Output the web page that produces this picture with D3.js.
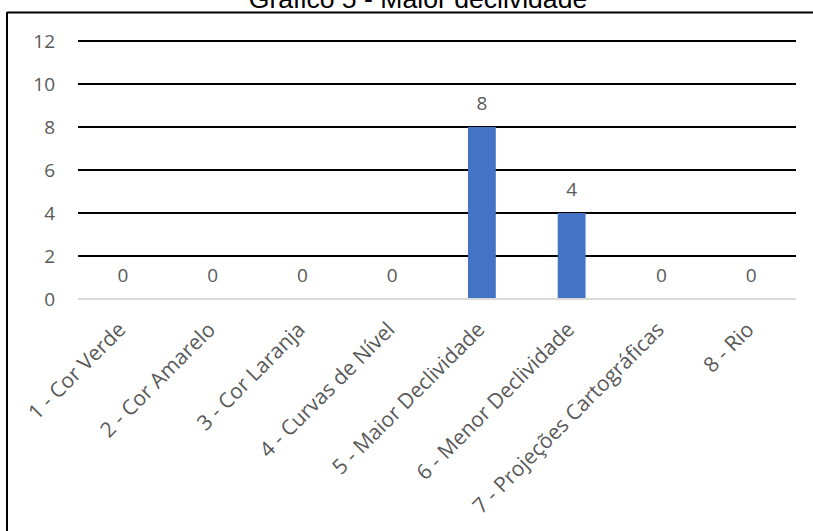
<!DOCTYPE html>
<html>
<head>
<meta charset="utf-8">
<script src="https://cdn.jsdelivr.net/npm/d3@7"></script>
<style>
  html, body { margin: 0; padding: 0; background: #fff; }
  svg { display: block; }
</style>
</head>
<body>
<svg id="chart" width="813" height="531"></svg>
<script>
// Respostas por alternativa
const categories = [
  "1 - Cor Verde",
  "2 - Cor Amarelo",
  "3 - Cor Laranja",
  "4 - Curvas de Nível",
  "5 - Maior Declividade",
  "6 - Menor Declividade",
  "7 - Projeções Cartográficas",
  "8 - Rio"
];
const values = [0, 0, 0, 0, 8, 4, 0, 0];
const yTicks = [0, 2, 4, 6, 8, 10, 12];
const title = "Gráfico 5 - Maior declividade";

const W = 813, H = 531;
const plot = { left: 78, right: 796, top: 41, bottom: 299 };
const font = "'Open Sans', 'Noto Sans', sans-serif";
const numSize = 19;
const catSize = 21;
const textColor = "#595959";

const svg = d3.select("#chart");

// Frame around the chart (top and left edges visible)
svg.append("line").attr("x1", 7).attr("x2", W + 2).attr("y1", 12.5).attr("y2", 12.5)
  .attr("stroke", "#000").attr("stroke-width", 2);
svg.append("line").attr("x1", 7).attr("x2", 7).attr("y1", 12).attr("y2", H + 2)
  .attr("stroke", "#000").attr("stroke-width", 2);

// Title
svg.append("text")
  .attr("x", 418).attr("y", 8)
  .attr("text-anchor", "middle")
  .attr("font-family", "'Liberation Sans', Arial, sans-serif")
  .attr("font-size", 26.6)
  .attr("fill", "#000")
  .text(title);

const x = d3.scaleBand().domain(categories).range([plot.left, plot.right]).paddingInner(0.69).paddingOuter(0.345);
const xc = d3.scaleBand().domain(categories).range([plot.left, plot.right]);
const y = d3.scaleLinear().domain([0, 12]).range([plot.bottom, plot.top]);

// Gridlines
const grid = svg.append("g");
grid.selectAll("line").data(yTicks.filter(t => t > 0)).join("line")
  .attr("x1", plot.left).attr("x2", plot.right)
  .attr("y1", d => y(d)).attr("y2", d => y(d))
  .attr("stroke", "#000").attr("stroke-width", 2);

// Bars
svg.append("g").selectAll("rect").data(values).join("rect")
  .attr("x", (d, i) => x(categories[i]))
  .attr("width", x.bandwidth())
  .attr("y", d => y(d))
  .attr("height", d => y(0) - y(d))
  .attr("fill", "#4472C4");

// Category axis baseline
svg.append("line").attr("x1", plot.left).attr("x2", plot.right)
  .attr("y1", y(0)).attr("y2", y(0))
  .attr("stroke", "#d9d9d9").attr("stroke-width", 2);

// Value axis labels
const yAxis = d3.axisLeft(y).tickValues(yTicks).tickSize(0).tickPadding(0);
const yg = svg.append("g").attr("transform", `translate(${plot.left - 23},0)`).call(yAxis);
yg.select(".domain").remove();
yg.selectAll("text")
  .attr("font-family", font).attr("font-size", numSize).attr("fill", textColor).attr("dy", "0.35em");

// Data labels
svg.append("g").selectAll("text").data(values).join("text")
  .attr("x", (d, i) => xc(categories[i]) + xc.bandwidth() / 2)
  .attr("y", d => y(d) - 17)
  .attr("text-anchor", "middle")
  .attr("font-family", font).attr("font-size", numSize).attr("fill", textColor)
  .text(d => d);

// Category labels, rotated
const xAxis = d3.axisBottom(xc).tickSize(0).tickPadding(0);
const xg = svg.append("g").attr("transform", `translate(0,${plot.bottom})`).call(xAxis);
xg.select(".domain").remove();
xg.selectAll(".tick text")
  .attr("font-family", font).attr("font-size", catSize).attr("fill", textColor)
  .attr("text-anchor", "end")
  .attr("dy", 0).attr("y", 0)
  .attr("transform", "translate(4,32) rotate(-45)");
</script>
</body>
</html>
